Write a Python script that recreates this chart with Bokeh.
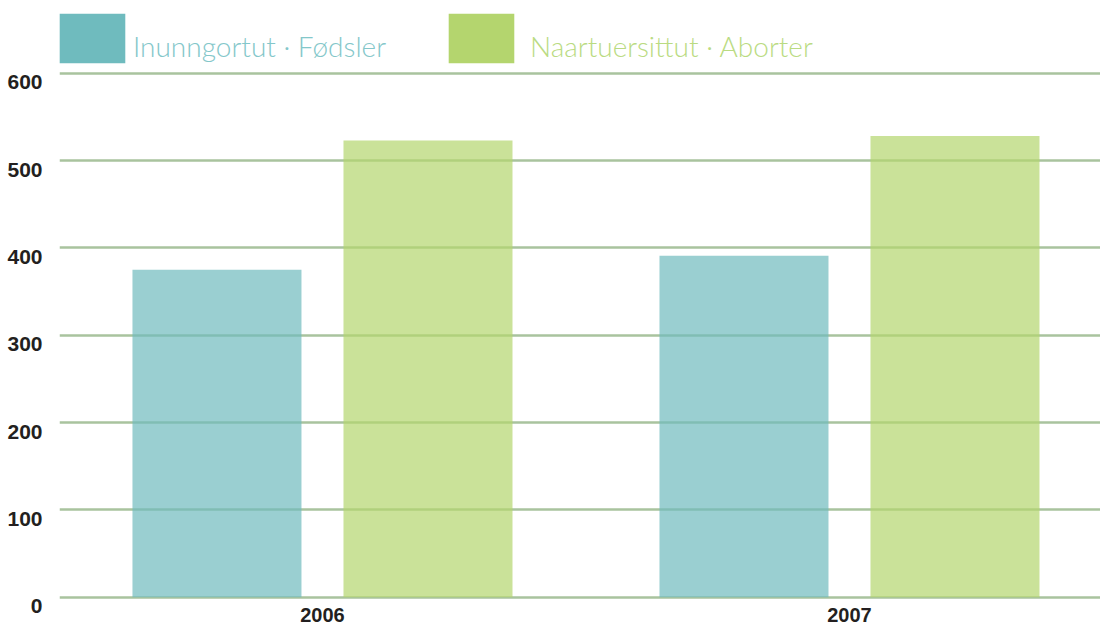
from bokeh.plotting import figure
from bokeh.models import Range1d, FixedTicker, Legend, ColumnDataSource
from bokeh.transform import dodge
from bokeh.embed import file_html
from bokeh.resources import INLINE

years = [2006, 2007]
births = [375, 391]
abortions = [523, 528]
y_ticks = [0, 100, 200, 300, 400, 500, 600]
label_births = "Inunngortut · Fødsler"
label_abortions = "Naartuersittut · Aborter"

TEAL = "#6fbbbe"
GREEN = "#b4d56e"
GRID = "#a9c39e"
TICKFONT = "Liberation Sans"
LEGFONT = "Lato Light"

source = ColumnDataSource(dict(year=years, births=births, abortions=abortions))

S = 0.8733          # px per unit
MBB = 23            # bottom border
H = 630 - MBB       # frame height (frame top at 0)
Y1 = 600 + 72.7 / S
Y0 = Y1 - H / S
SHIFT = 10.5        # tick labels sit a little below their grid lines

p = figure(width=1100, height=630, output_backend="svg", toolbar_location=None,
           x_range=Range1d(2005.501, 2007.4763), y_range=Range1d(Y0, Y1),
           min_border_left=59, min_border_right=0, min_border_top=0, min_border_bottom=MBB)
p.outline_line_color = None
p.background_fill_color = "white"
p.border_fill_color = "white"
p.extra_y_ranges = {"lab": Range1d(Y0 + SHIFT, Y1 + SHIFT)}

p.xgrid.visible = False
p.ygrid.ticker = FixedTicker(ticks=y_ticks)
p.ygrid.grid_line_color = GRID
p.ygrid.grid_line_width = 2.5

bw = 0.3207
off = 0.2002
p.vbar(x=dodge("year", -off), top="births", bottom=0, width=bw, source=source,
       fill_color=TEAL, fill_alpha=0.7, line_color=None)
p.vbar(x=dodge("year", off), top="abortions", bottom=0, width=bw, source=source,
       fill_color=GREEN, fill_alpha=0.7, line_color=None)

# legend proxies: zero-height bars, only used for the legend swatches / texts
proxy = ColumnDataSource(dict(year=years[:1], zero=[0]))
sw1 = p.vbar(x="year", top="zero", bottom="zero", width=0.01, source=proxy,
             fill_color=TEAL, line_color=None)
sw2 = p.vbar(x="year", top="zero", bottom="zero", width=0.01, source=proxy,
             fill_color=GREEN, line_color=None)
tx = p.vbar(x="year", top="zero", bottom="zero", width=0.01, source=proxy,
            fill_alpha=0, line_color=None)

for ax in (p.xaxis[0], p.yaxis[0]):
    ax.axis_line_color = None
    ax.major_tick_line_color = None
    ax.minor_tick_line_color = None
    ax.major_tick_out = 0
    ax.major_tick_in = 0
    ax.minor_tick_out = 0
    ax.major_label_text_font = TICKFONT
    ax.major_label_text_font_style = "bold"
    ax.major_label_text_color = "#231f20"

p.xaxis.ticker = FixedTicker(ticks=years)
p.xaxis.major_label_standoff = 0
p.xaxis.major_label_text_font_size = "20px"
yax = p.yaxis[0]
yax.y_range_name = "lab"
yax.ticker = FixedTicker(ticks=y_ticks)
yax.major_label_standoff = 17
yax.major_label_text_font_size = "21px"

def swatch(r, x):
    return Legend(items=[(" ", [r])], location=(x, H - 68.8),
                  orientation="horizontal", glyph_width=82, glyph_height=62,
                  label_standoff=0, padding=0, margin=0, spacing=0,
                  border_line_color=None, background_fill_alpha=0,
                  label_text_font_size="10px")

def text(label, x, color):
    return Legend(items=[(label, [tx])], location=(x, H - 63),
                  orientation="horizontal", glyph_width=1, glyph_height=30,
                  label_height=30, label_standoff=0, padding=0, margin=0, spacing=0,
                  border_line_color=None, background_fill_alpha=0,
                  label_text_font=LEGFONT, label_text_font_size="28px",
                  label_text_color=color)

p.add_layout(swatch(sw1, -8.2))
p.add_layout(swatch(sw2, 380.8))
p.add_layout(text(label_births, 73, "#84c7ca"))
p.add_layout(text(label_abortions, 470, "#badb82"))

open("out.html", "w").write(file_html(p, INLINE))
